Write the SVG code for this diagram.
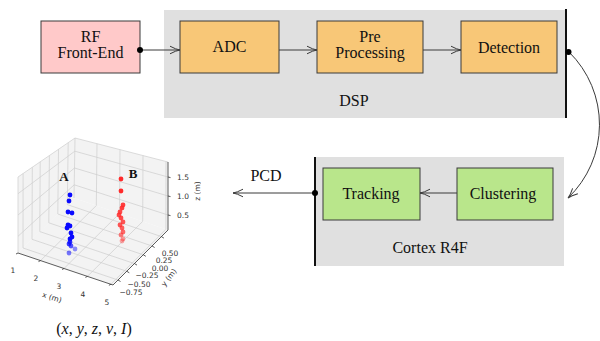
<svg xmlns="http://www.w3.org/2000/svg" width="600" height="341" viewBox="0 0 600 341">
  <style>
    .lbl { font-family: 'Liberation Serif', 'DejaVu Serif', 'Times New Roman', serif; font-size: 16px; fill: #111; text-anchor: middle; }
    .box { stroke: #3a3a3a; stroke-width: 1; }
    .rf { fill: #ffc9c9; }
    .dsp { fill: #f8c777; }
    .mcu { fill: #b9e68b; }
    .zone { fill: #e0e0e0; }
    .bar { stroke: #111; stroke-width: 2; }
    .wire { fill: none; stroke: #3a3a3a; stroke-width: 1; }
    .dot { fill: #000; }
    .grid { stroke: #cdcdcd; stroke-width: 0.7; fill: none; }
    .pane { fill: #f3f3f3; stroke: none; }
    .axis { stroke: #333; stroke-width: 0.8; fill: none; }
    .tick { font-family: 'DejaVu Sans', sans-serif; font-size: 7.5px; fill: #333; text-anchor: middle; }
    .tag { font-family: 'Liberation Serif', 'DejaVu Serif', serif; font-size: 13px; font-weight: bold; fill: #111; text-anchor: middle; }
    .pa { fill: #0a0aff; }
    .pb { fill: #ff2a2a; }
  </style>
  <defs>
    <marker id="head" markerUnits="userSpaceOnUse" markerWidth="14" markerHeight="10" viewBox="-11 -5 12 10" refX="0" refY="0" orient="auto" overflow="visible">
      <path d="M-10,-3.8 Q-4,-0.6 0,0 Q-4,0.6 -10,3.8" fill="none" stroke="#3a3a3a" stroke-width="1"/>
    </marker>
    <clipPath id="plotclip"><rect x="0" y="128" width="201" height="185"/></clipPath>
  </defs>

  <!-- processing zones -->
  <g id="dsp-zone">
    <rect class="zone" x="164" y="10" width="402" height="108"/>
    <line class="bar" x1="566" y1="9" x2="566" y2="118"/>
    <text class="lbl" font-family="Liberation Serif, serif" x="354" y="106">DSP</text>
  </g>
  <g id="cortex-zone">
    <rect class="zone" x="315" y="157" width="249" height="109"/>
    <line class="bar" x1="315" y1="157" x2="315" y2="266"/>
    <text class="lbl" font-family="Liberation Serif, serif" x="430" y="253">Cortex R4F</text>
  </g>

  <!-- blocks -->
  <g id="rf-frontend" font-family="Liberation Serif, serif">
    <rect class="box rf" x="41" y="21" width="99" height="52"/>
    <text class="lbl" x="90.5" y="42">RF</text>
    <text class="lbl" x="90.5" y="58">Front-End</text>
  </g>
  <g id="adc">
    <rect class="box dsp" x="180" y="21" width="99" height="52"/>
    <text class="lbl" x="229.5" y="52">ADC</text>
  </g>
  <g id="preprocessing">
    <rect class="box dsp" x="317" y="21" width="106" height="52"/>
    <text class="lbl" x="370" y="42">Pre</text>
    <text class="lbl" x="370" y="58">Processing</text>
  </g>
  <g id="detection">
    <rect class="box dsp" x="461" y="21" width="96" height="52"/>
    <text class="lbl" x="509" y="53">Detection</text>
  </g>
  <g id="tracking">
    <rect class="box mcu" x="323" y="168" width="97" height="52"/>
    <text class="lbl" x="371" y="199">Tracking</text>
  </g>
  <g id="clustering">
    <rect class="box mcu" x="457" y="168" width="96" height="52"/>
    <text class="lbl" x="503" y="199">Clustering</text>
  </g>

  <!-- connectors -->
  <g id="connectors">
    <line class="wire" x1="140" y1="50" x2="180" y2="50" marker-end="url(#head)"/>
    <circle class="dot" cx="140" cy="50" r="3"/>
    <line class="wire" x1="279" y1="50" x2="317" y2="50" marker-end="url(#head)"/>
    <line class="wire" x1="423" y1="50" x2="461" y2="50" marker-end="url(#head)"/>
    <path class="wire" d="M569,52 A101.5,101.5 0 0 1 568,198" marker-end="url(#head)"/>
    <circle class="dot" cx="568.5" cy="52" r="3"/>
    <line class="wire" x1="457" y1="193" x2="420" y2="193" marker-end="url(#head)"/>
    <line class="wire" x1="315" y1="193" x2="233" y2="193" marker-end="url(#head)"/>
    <circle class="dot" cx="315" cy="193" r="3"/>
    <text class="lbl" x="266" y="181">PCD</text>
  </g>

  <!-- point cloud scatter plot -->
  <g id="pcd-plot" clip-path="url(#plotclip)">
    <!-- panes: left (x=min), back (y=max), floor (z=min) -->
    <polygon class="pane" points="18,253 74,198 75,138 18,177"/>
    <polygon class="pane" points="74,198 168,230 168,162 75,138"/>
    <polygon class="pane" points="18,253 113,285 168,230 74,198"/>
    <!-- left pane grid -->
    <path class="grid" d="M23,248 L23.1,173.5 M32,239.3 L32.3,167.3 M39.8,231.6 L40.2,161.8 M48.8,222.8 L49.4,155.6 M57.8,214 L58.5,149.3 M67.3,204.6 L68.2,142.7
      M18,236.3 L74.2,184.8 M18,215 L74.5,168 M18,193.7 L74.8,151.2"/>
    <!-- back pane grid -->
    <path class="grid" d="M96.3,205.6 L97,143.7 M119.5,213.5 L120,149.6 M142.7,221.4 L143,155.5 M165.9,229.3 L166,161.5
      M74.2,184.8 L168,215 M74.5,168 L168,196 M74.8,151.2 L168,177"/>
    <!-- floor grid -->
    <path class="grid" d="M40.5,260.6 L96.3,205.6 M64,268.5 L119.5,213.5 M87.4,276.4 L142.7,221.4 M110.9,284.3 L165.9,229.3
      M23,248 L118,280 M32,239.3 L126.8,271.3 M39.8,231.6 L134.5,263.6 M48.8,222.8 L143.3,254.8 M57.8,214 L152.1,246 M67.3,204.6 L161.4,236.6"/>
    <!-- pane outline edges -->
    <path class="grid" d="M18,253 L18,177 L75,138 L168,162 M74,198 L75,138"/>
    <!-- axes -->
    <path class="axis" d="M18,253 L113,285 L168,230 L168,162"/>
    <path class="axis" d="M18,253 l-2,1 M40.5,260.6 l-2,1 M64,268.5 l-2,1 M87.4,276.4 l-2,1 M110.9,284.3 l-2,1
      M118,280 l2.5,1.5 M126.8,271.3 l2.5,1.5 M134.5,263.6 l2.5,1.5 M143.3,254.8 l2.5,1.5 M152.1,246 l2.5,1.5 M161.4,236.6 l2.5,1.5
      M168,215 l2.5,0.6 M168,196 l2.5,0.6 M168,177 l2.5,0.6"/>
    <!-- tick labels -->
    <text class="tick" x="13" y="273">1</text>
    <text class="tick" x="36" y="281">2</text>
    <text class="tick" x="59" y="289">3</text>
    <text class="tick" x="83" y="297">4</text>
    <text class="tick" x="107" y="305">5</text>
    <text class="tick" x="52" y="300" transform="rotate(18 52 297.5)">x (m)</text>
    <text class="tick" x="170" y="255.5">0.50</text>
    <text class="tick" x="164" y="263">0.25</text>
    <text class="tick" x="160" y="270.5">0.00</text>
    <text class="tick" x="147" y="277.5">−0.25</text>
    <text class="tick" x="139" y="286.5">−0.50</text>
    <text class="tick" x="131" y="294.5">−0.75</text>
    <text class="tick" x="169" y="280" transform="rotate(-52 169 277.5)">y (m)</text>
    <text class="tick" x="183" y="179.5">1.5</text>
    <text class="tick" x="183" y="198.5">1.0</text>
    <text class="tick" x="183" y="217.5">0.5</text>
    <text class="tick" x="198" y="193" transform="rotate(-90 198 191)">z (m)</text>
    <!-- cluster A -->
    <g class="pa">
      <circle cx="70" cy="195" r="2.4"/>
      <circle cx="69" cy="201" r="2.4"/>
      <circle cx="68" cy="212" r="2.4"/>
      <circle cx="72" cy="213" r="2.4"/>
      <circle cx="68" cy="225" r="2.4"/>
      <circle cx="70" cy="226" r="2.4"/>
      <circle cx="67" cy="228" r="2.4"/>
      <circle cx="71" cy="233" r="2.4"/>
      <circle cx="72" cy="237" r="2.4"/>
      <circle cx="70" cy="239" r="2.4"/>
      <circle cx="70" cy="242" r="2.4" opacity="0.85"/>
      <circle cx="69" cy="244" r="2.4" opacity="0.8"/>
      <circle cx="71" cy="246" r="2.4" opacity="0.7"/>
      <circle cx="75" cy="249" r="2.4" opacity="0.45"/>
      <circle cx="69" cy="253" r="2.4" opacity="0.55"/>
    </g>
    <!-- cluster B -->
    <g class="pb">
      <circle cx="121" cy="179" r="2.4"/>
      <circle cx="121" cy="191" r="2.4"/>
      <circle cx="123" cy="205" r="2.4" opacity="0.9"/>
      <circle cx="122" cy="208" r="2.4" opacity="0.9"/>
      <circle cx="120" cy="212" r="2.4" opacity="0.85"/>
      <circle cx="119" cy="215" r="2.4" opacity="0.85"/>
      <circle cx="121" cy="218" r="2.4" opacity="0.85"/>
      <circle cx="123" cy="222" r="2.4" opacity="0.8"/>
      <circle cx="120" cy="225" r="2.4" opacity="0.8"/>
      <circle cx="122" cy="228" r="2.4" opacity="0.75"/>
      <circle cx="123" cy="232" r="2.4" opacity="0.7"/>
      <circle cx="121" cy="235" r="2.4" opacity="0.6"/>
      <circle cx="123" cy="239" r="2.4" opacity="0.45"/>
      <circle cx="122" cy="241" r="2.4" opacity="0.4"/>
    </g>
    <text class="tag" x="64" y="180.5">A</text>
    <text class="tag" x="133" y="177.5">B</text>
  </g>

  <!-- point attributes -->
  <text id="pcd-tuple" class="lbl" x="94" y="334">(<tspan font-style="italic">x</tspan>, <tspan font-style="italic">y</tspan>, <tspan font-style="italic">z</tspan>, <tspan font-style="italic">v</tspan>, <tspan font-style="italic">I</tspan>)</text>
</svg>
